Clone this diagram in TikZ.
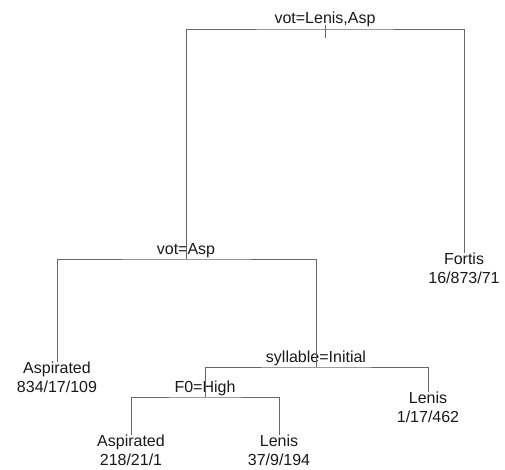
\documentclass[tikz,border=0pt]{standalone}
\usepackage{fontspec}
\setmainfont{Liberation Sans}
\usetikzlibrary{positioning}

\begin{document}
\begin{tikzpicture}[x=1pt, y=-1pt,
  split/.style={anchor=base, inner sep=0pt, font=\fontsize{16}{19}\selectfont, text=black!90},
  leaf/.style={anchor=north, inner sep=0pt, align=center, font=\fontsize{16}{19}\selectfont, text=black!90},
  edge/.style={draw=black!60, line width=0.9pt}
]
  \useasboundingbox (0,0) rectangle (505,470);

  % split points
  \coordinate (root) at (325,29);
  \coordinate (vA) at (186,259);
  \coordinate (syl) at (316,367);
  \coordinate (fz) at (205,397);

  \node[split] (root-lab) at (325,24) {vot=Lenis,Asp};
  \node[split] (vA-lab) at (186,254) {vot=Asp};
  \node[split] (syl-lab) at (316,362) {syllable=Initial};
  \node[split] (fz-lab) at (205,392) {F0=High};

  % leaves
  \node[leaf] (asp1) at (57,362) {Aspirated\\834/17/109};
  \node[leaf] (fortis) at (464,253) {Fortis\\16/873/71};
  \node[leaf] (lenis1) at (428,392) {Lenis\\1/17/462};
  \node[leaf] (asp2) at (131,435) {Aspirated\\218/21/1};
  \node[leaf] (lenis2) at (279,435) {Lenis\\37/9/194};

  \draw[edge] ([yshift=4pt]root) -- ([yshift=-9pt]root);
  \draw[edge] (vA) |- (root) -| (fortis.north);
  \draw[edge] (asp1.north) |- (vA) -| (syl);
  \draw[edge] (fz) |- (syl) -| (lenis1.north);
  \draw[edge] (asp2.north) |- (fz) -| (lenis2.north);
\end{tikzpicture}
\end{document}
